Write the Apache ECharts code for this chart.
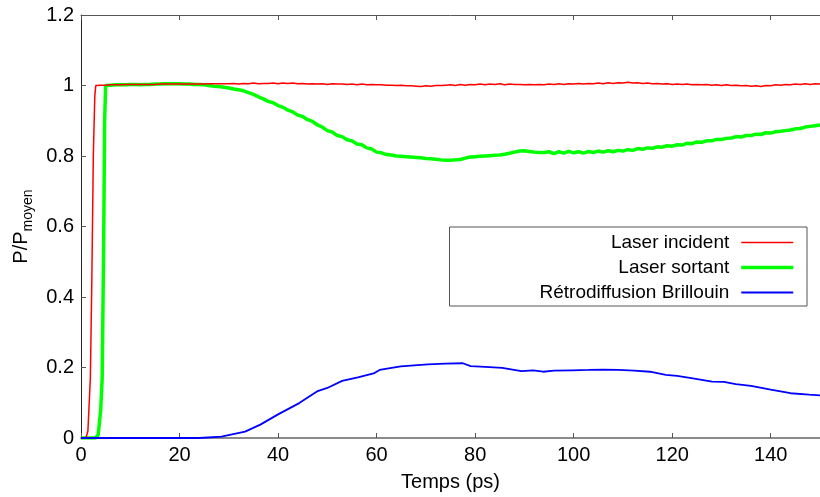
<!DOCTYPE html>
<html><head><meta charset="utf-8">
<script src="https://cdn.jsdelivr.net/npm/echarts@6/dist/echarts.min.js"></script>
<style>html,body{margin:0;padding:0;background:#fff}#c{width:820px;height:497px}</style>
</head><body><div id="c"></div>
<script>
var seriesNames = ['Laser incident', 'Laser sortant', 'Rétrodiffusion Brillouin'];
var xTicks = [0, 20, 40, 60, 80, 100, 120, 140];
var yTicks = [0, 0.2, 0.4, 0.6, 0.8, 1, 1.2];

var redTime = [0, 1.0, 1.4, 1.9, 2.2, 2.5, 2.8,
  3,4,5,6,7,8,9,10,11,12,13,14,15,16,17,18,19,20,21,22,23,24,25,26,27,28,29,
  30,31,32,33,34,35,36,37,38,39,40,41,42,43,44,45,46,47,48,49,50,51,52,53,54,55,56,57,58,59,60,
  61,62,63,64,65,66,67,68,69,70,71,72,73,74,75,76,77,78,79,80,
  81,82,83,84,85,86,87,88,89,90,91,92,93,94,95,96,97,98,99,100,
  101,102,103,104,105,106,107,108,109,110,111,112,113,114,115,116,117,118,119,120,
  121,122,123,124,125,126,127,128,129,130,131,132,133,134,135,136,137,138,139,140,
  141,142,143,144,145,146,147,148,149,150];
var redValues = [0, 0, 0.02, 0.17, 0.45, 0.8, 0.97,
  1.000,1.001,1.001,1.002,1.002,1.002,1.003,1.003,1.003,1.003,1.003,1.003,1.003,1.004,1.004,1.004,1.004,1.004,1.004,1.004,1.004,1.004,1.004,1.005,1.005,1.005,1.005,
  1.005,1.006,1.004,1.006,1.005,1.007,1.005,1.006,1.006,1.007,1.005,1.007,1.006,1.007,1.005,1.006,1.004,1.005,1.004,1.005,1.003,1.005,1.004,1.004,1.003,1.004,1.002,1.004,1.002,1.003,1.002,
  1.002,1.001,1.001,1.000,1.001,0.999,0.999,0.998,0.997,0.999,0.998,1.000,1.000,1.001,1.002,1.000,1.003,1.001,1.003,1.002,
  1.004,1.002,1.004,1.003,1.005,1.002,1.004,1.003,1.003,1.002,1.003,1.002,1.003,1.002,1.004,1.003,1.005,1.003,1.005,1.004,
  1.006,1.004,1.006,1.005,1.007,1.005,1.008,1.006,1.008,1.007,1.009,1.007,1.008,1.006,1.007,1.005,1.006,1.004,1.005,1.003,
  1.004,1.003,1.004,1.002,1.003,1.002,1.003,1.001,1.002,1.000,1.002,1.000,1.001,0.999,1.000,0.998,0.999,0.997,1.000,0.999,
  1.002,1.001,1.003,1.002,1.004,1.003,1.005,1.003,1.005,1.004];

var greenTime = [0, 3.0, 3.5, 4.0, 4.3, 4.6, 4.8,
  5,6,7,8,9,10,11,12,13,14,15,16,17,18,19,20,21,22,23,24,25,26,27,28,29,
  30,31,32,33,34,35,36,37,38,39,40,41,42,43,44,45,46,47,48,49,50,51,52,53,54,55,56,57,58,59,60,
  61,62,63,64,65,66,67,68,69,70,71,72,73,74,75,76,77,78,79,80,
  81,82,83,84,85,86,87,88,89,90,91,92,93,94,95,96,97,98,99,100,
  101,102,103,104,105,106,107,108,109,110,111,112,113,114,115,116,117,118,119,120,
  121,122,123,124,125,126,127,128,129,130,131,132,133,134,135,136,137,138,139,140,
  141,142,143,144,145,146,147,148,149,150];
var greenValues = [0, 0, 0.01, 0.08, 0.17, 0.55, 0.9,
  1.000,1.001,1.002,1.002,1.002,1.003,1.003,1.002,1.003,1.003,1.004,1.004,1.005,1.005,1.005,1.005,1.004,1.004,1.003,1.003,1.002,1.000,0.998,0.997,0.995,
  0.993,0.990,0.988,0.985,0.980,0.975,0.968,0.962,0.955,0.951,0.943,0.938,0.930,0.925,0.916,0.912,0.903,0.898,0.888,0.882,0.872,0.868,0.858,0.855,0.846,0.843,0.834,0.832,0.823,0.820,0.811,
  0.809,0.804,0.803,0.800,0.799,0.798,0.797,0.796,0.795,0.793,0.792,0.791,0.789,0.788,0.788,0.789,0.790,0.794,0.797,0.798,
  0.799,0.800,0.801,0.802,0.803,0.805,0.808,0.811,0.814,0.815,0.813,0.811,0.810,0.810,0.812,0.807,0.812,0.808,0.813,0.809,
  0.812,0.808,0.813,0.810,0.814,0.811,0.815,0.812,0.816,0.814,0.818,0.816,0.821,0.819,0.823,0.822,0.826,0.825,0.829,0.828,
  0.832,0.831,0.836,0.835,0.840,0.839,0.843,0.843,0.847,0.847,0.850,0.851,0.855,0.854,0.858,0.858,0.862,0.861,0.866,0.865,
  0.869,0.870,0.872,0.874,0.877,0.878,0.882,0.884,0.886,0.888];

var blueTime = [0, 24, 28.5, 33.3, 36.4, 40, 44.3, 47.9, 50, 53, 56.2, 59.4, 60.6, 64.9, 70.4, 74, 77.5, 79.1, 82, 85.5, 89.4, 91.8, 93.8, 96, 99.7, 103, 106, 109, 112.3, 115.5, 118.7, 121, 124.2, 128.1, 130.5, 132.9, 136, 140, 144, 147.8, 150];
var blueValues = [0, 0, 0.004, 0.018, 0.038, 0.067, 0.099, 0.132, 0.142, 0.162, 0.172, 0.183, 0.193, 0.203, 0.209, 0.211, 0.212, 0.204, 0.202, 0.199, 0.190, 0.192, 0.188, 0.191, 0.192, 0.193, 0.194, 0.193, 0.191, 0.188, 0.179, 0.176, 0.169, 0.160, 0.159, 0.153, 0.148, 0.137, 0.127, 0.123, 0.121];

function pairs(t, v) { return t.map(function (x, i) { return [x, v[i]]; }); }

var FONT = 'Liberation Sans';
var chart = echarts.init(document.getElementById('c'), null, { renderer: 'canvas' });
chart.setOption({
  animation: false,
  backgroundColor: '#fff',
  grid: { left: 81, right: -10, top: 15, bottom: 56, containLabel: false },
  legend: {
    orient: 'vertical', right: 13, top: 227, align: 'right',
    itemWidth: 52, itemHeight: 14, itemGap: 6,
    padding: [6, 12, 4, 90],
    borderColor: '#555', borderWidth: 1, backgroundColor: '#fff',
    itemStyle: { opacity: 0 },
    textStyle: { fontFamily: FONT, fontSize: 19, color: '#000', padding: [0, 7, 0, 0] },
    data: [
      { name: seriesNames[0], lineStyle: { width: 1.5 } },
      { name: seriesNames[1], lineStyle: { width: 3.5 } },
      { name: seriesNames[2], lineStyle: { width: 1.8 } }
    ]
  },
  xAxis: [{
    type: 'value', min: 0, max: 150, interval: 20, position: 'bottom',
    name: 'Temps (ps)', nameLocation: 'middle', nameGap: 34,
    nameTextStyle: { fontFamily: FONT, fontSize: 20, color: '#000' },
    axisLine: { onZero: false, lineStyle: { color: '#8a8a8a', width: 2 } },
    axisTick: { inside: true, length: 5, lineStyle: { color: '#555' } },
    axisLabel: { fontFamily: FONT, fontSize: 20, color: '#000', margin: 7, showMaxLabel: false,
      formatter: function (v) { return xTicks.indexOf(v) >= 0 ? String(v) : ''; } },
    splitLine: { show: false }
  }, {
    type: 'value', min: 0, max: 150, interval: 20, position: 'top',
    axisLine: { onZero: false, lineStyle: { color: '#555', width: 1 } },
    axisTick: { inside: true, length: 5, lineStyle: { color: '#555' } },
    axisLabel: { show: false }, splitLine: { show: false }
  }],
  yAxis: {
    type: 'value', min: 0, max: 1.2, interval: 0.2,
    name: '{a|P/P}{b|moyen}', nameLocation: 'middle', nameGap: 44,
    nameTextStyle: {
      rich: {
        a: { fontFamily: FONT, fontSize: 20, color: '#000', verticalAlign: 'bottom' },
        b: { fontFamily: FONT, fontSize: 14, color: '#000', verticalAlign: 'bottom', padding: [0, 0, -4, 0] }
      }
    },
    axisLine: { onZero: false, lineStyle: { color: '#222', width: 1 } },
    axisTick: { inside: true, length: 5, lineStyle: { color: '#555' } },
    axisLabel: { fontFamily: FONT, fontSize: 20, color: '#000', margin: 7,
      formatter: function (v) { var k = yTicks.indexOf(Math.round(v * 10) / 10); return k >= 0 ? String(yTicks[k]) : ''; } },
    splitLine: { show: false }
  },
  series: [
    { name: seriesNames[0], type: 'line', data: pairs(redTime, redValues), showSymbol: false, symbol: 'none',
      lineStyle: { color: '#ff0000', width: 1.5 }, itemStyle: { color: '#ff0000' }, z: 3 },
    { name: seriesNames[1], type: 'line', data: pairs(greenTime, greenValues), showSymbol: false, symbol: 'none',
      lineStyle: { color: '#00ff00', width: 3.5 }, itemStyle: { color: '#00ff00' }, z: 2 },
    { name: seriesNames[2], type: 'line', data: pairs(blueTime, blueValues), showSymbol: false, symbol: 'none',
      lineStyle: { color: '#0000ff', width: 1.8 }, itemStyle: { color: '#0000ff' }, z: 4 }
  ]
});
</script></body></html>
